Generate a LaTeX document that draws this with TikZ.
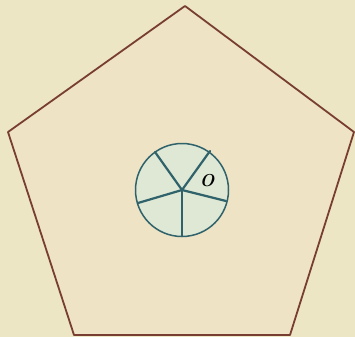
\documentclass[tikz,border=0pt]{standalone}
\definecolor{bg}{RGB}{236,230,196}
\definecolor{edge}{RGB}{120,62,50}
\definecolor{teal}{RGB}{48,98,108}
\definecolor{disc}{RGB}{222,232,212}
\tikzset{
  pent/.style={draw=edge,line width=1.8pt,line join=round,fill=bg!92!pink},
  rim/.style={draw=teal,line width=1.5pt,fill=disc},
  spoke/.style={draw=teal,line width=2.2pt,line cap=round}
}
\begin{document}
\begin{tikzpicture}[x=1pt,y=-1pt]
\fill[bg] (0,0) rectangle (355,337);
\useasboundingbox (0,0) rectangle (355,337);
\coordinate (A) at (185,6);
\coordinate (B) at (354,132);
\coordinate (C) at (290,335);
\coordinate (D) at (74,335);
\coordinate (E) at (8,132);
\draw[pent] (A) -- (B) -- (C) -- (D) -- (E) -- cycle;
\coordinate (M) at (182,190);
\draw[rim] (M) circle[radius=46.5];
\coordinate (s1) at (155,152);
\coordinate (s2) at (210,151);
\coordinate (s3) at (138,203);
\coordinate (s4) at (226,201);
\coordinate (s5) at (182,236);
\foreach \s in {s1,s2,s3,s4,s5} \draw[spoke] (M) -- (\s);
\node[font=\LARGE\bfseries\itshape,inner sep=0pt] (O) at (207,181) {O};
\end{tikzpicture}
\end{document}
